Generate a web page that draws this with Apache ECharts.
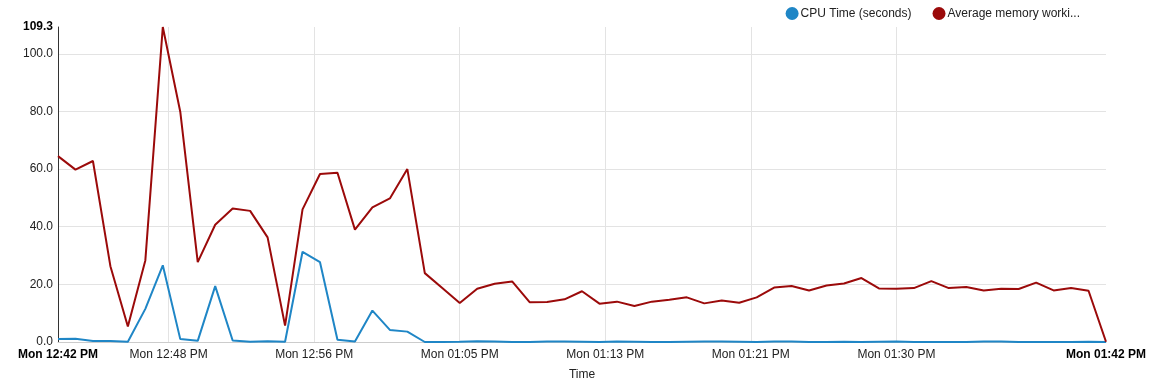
<!DOCTYPE html>
<html>
<head>
<meta charset="utf-8">
<script src="https://cdn.jsdelivr.net/npm/echarts@6/dist/echarts.min.js"></script>
<style>
html,body{margin:0;padding:0;background:#fff;}
#chart{width:1165px;height:388px;}
</style>
</head>
<body>
<div id="chart"></div>
<script>
// Minutes since Mon 12:42 PM (one sample per minute)
var minutes = [0,1,2,3,4,5,6,7,8,9,10,11,12,13,14,15,16,17,18,19,20,21,22,23,24,25,26,27,28,29,30,31,32,33,34,35,36,37,38,39,40,41,42,43,44,45,46,47,48,49,50,51,52,53,54,55,56,57,58,59,60];
var cpuTime = [1.0,1.1,0.35,0.35,0.1,11.5,26.6,1.0,0.4,19.4,0.5,0.1,0.3,0.1,31.3,27.7,0.8,0.2,10.9,4.2,3.6,0,0,0.1,0.3,0.2,0,0,0.2,0.2,0.1,0,0.2,0.1,0,0,0.1,0.2,0.2,0.1,0,0.2,0.2,0,0,0.1,0,0.1,0.2,0,0,0,0,0.2,0.2,0,0,0,0,0.1,0];
var avgMemory = [64.5,59.8,62.8,26.3,5.4,28.3,109.3,79.9,27.7,40.7,46.3,45.5,36.3,5.7,46.0,58.3,58.7,39.0,46.7,49.8,60.0,23.9,18.7,13.5,18.5,20.2,21.0,13.8,13.9,14.8,17.6,13.3,14.0,12.5,14.0,14.7,15.5,13.4,14.4,13.6,15.5,18.9,19.4,17.9,19.6,20.3,22.2,18.6,18.5,18.7,21.1,18.7,19.1,17.9,18.5,18.4,20.6,17.9,18.7,17.8,0.1];
var seriesNames = ['CPU Time (seconds)', 'Average memory worki...'];
var xTickMinutes = [0, 19/3, 44/3, 23, 94/3, 119/3, 48, 60];
var xTickLabels = ['Mon 12:42 PM','Mon 12:48 PM','Mon 12:56 PM','Mon 01:05 PM','Mon 01:13 PM','Mon 01:21 PM','Mon 01:30 PM','Mon 01:42 PM'];
var yTickValues = [0, 20, 40, 60, 80, 100, 109.3];
var yMax = 109.3;

function pair(vals){ return minutes.map(function(m,i){ return [m, vals[i]]; }); }

var chart = echarts.init(document.getElementById('chart'), null, {renderer:'canvas'});
var font = 'Arial, "Liberation Sans", sans-serif';
chart.setOption({
  animation: false,
  textStyle: {fontFamily: font},
  color: ['#1f86c6', '#9b0a0a'],
  legend: {
    top: 2, right: 80,
    itemWidth: 13, itemHeight: 13, itemGap: 21,
    icon: 'circle',
    textStyle: {fontSize: 12, color: '#222', fontFamily: font, padding:[0,0,0,-3]},
    data: seriesNames
  },
  grid: {left: 58, right: 59, top: 27, bottom: 46, containLabel: false},
  xAxis: {
    type: 'value', min: 0, max: 60,
    name: 'Time', nameLocation: 'middle', nameGap: 27,
    nameTextStyle: {fontSize: 12, color: '#222', fontFamily: font},
    axisLine: {show: true, lineStyle: {color: '#cccccc', width: 1}},
    axisTick: {show: false, customValues: xTickMinutes.slice(1, -1)},
    splitLine: {show: true, lineStyle: {color: '#e3e3e3', width: 1}},
    axisLabel: {
      customValues: xTickMinutes,
      margin: 7, fontSize: 12, color: '#222', fontFamily: font,
      showMinLabel: true, showMaxLabel: true, hideOverlap: false,
      formatter: function(v){
        var k = 0, best = 1e9;
        xTickMinutes.forEach(function(t,i){ var d = Math.abs(t-v); if (d < best){best = d; k = i;} });
        var s = xTickLabels[k];
        return (k === 0 || k === xTickMinutes.length-1) ? '{b|' + s + '}' : s;
      },
      rich: {b: {fontWeight: 'bold', color: '#000', fontSize: 12, fontFamily: font}}
    }
  },
  yAxis: {
    type: 'value', min: 0, max: yMax,
    axisLine: {show: true, lineStyle: {color: '#333', width: 1}},
    axisTick: {show: false, customValues: yTickValues.slice(1, -1)},
    splitLine: {show: true, lineStyle: {color: '#e3e3e3', width: 1}},
    axisLabel: {
      customValues: yTickValues,
      margin: 5, fontSize: 12, color: '#222', fontFamily: font,
      showMinLabel: true, showMaxLabel: true,
      formatter: function(v){
        var s = v.toFixed(1);
        return Math.abs(v - yMax) < 1e-6 ? '{b|' + s + '}' : s;
      },
      rich: {b: {fontWeight: 'bold', color: '#000', fontSize: 12, fontFamily: font}}
    }
  },
  series: [
    {name: seriesNames[0], type: 'line', data: pair(cpuTime), symbol: 'none', lineStyle: {width: 2}, z: 2},
    {name: seriesNames[1], type: 'line', data: pair(avgMemory), symbol: 'none', lineStyle: {width: 2}, z: 3}
  ]
});
</script>
</body>
</html>
